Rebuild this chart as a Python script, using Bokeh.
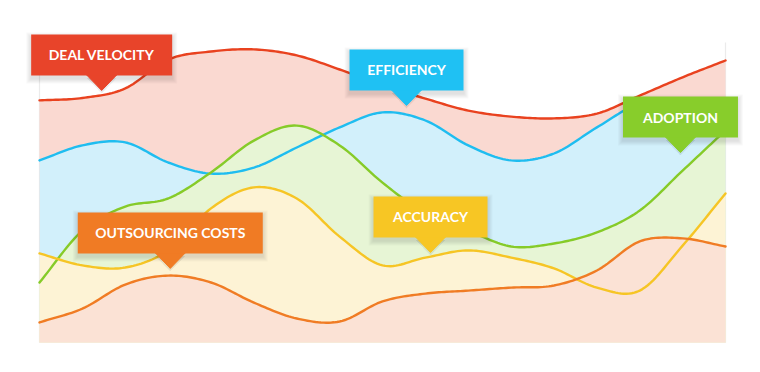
import numpy as np
from bokeh.plotting import figure
from bokeh.models import Range1d, ColumnDataSource
from bokeh.core.properties import value
from bokeh.embed import file_html
from bokeh.resources import INLINE

# ---------------- data ----------------
periods = list(range(17))
deal_velocity = [80.7, 81.5, 84.7, 94.3, 97.0, 97.7, 95.7, 91.0, 85.7, 81.3, 77.3, 75.3, 74.7, 76.3, 82.3, 88.4, 94.0]
efficiency = [60.7, 65.7, 66.7, 60.0, 56.3, 58.3, 65.0, 71.7, 76.7, 74.0, 65.7, 60.7, 63.0, 71.7, 79.7, 80.7, 80.0]
adoption = [20.0, 37.3, 45.3, 48.0, 56.7, 67.3, 72.3, 65.7, 53.3, 43.0, 37.3, 32.0, 33.0, 36.7, 44.0, 57.3, 70.7]
accuracy = [29.7, 25.7, 25.0, 30.7, 44.7, 51.7, 48.0, 35.3, 25.7, 28.3, 30.7, 28.3, 24.7, 18.3, 17.3, 32.3, 49.7]
outsourcing_costs = [6.7, 11.3, 19.3, 22.3, 20.0, 13.3, 8.0, 7.0, 13.7, 16.3, 17.3, 18.3, 19.0, 24.0, 33.7, 34.7, 32.0]

series_labels = ["DEAL VELOCITY", "EFFICIENCY", "ADOPTION", "ACCURACY", "OUTSOURCING COSTS"]

# ---------------- styles / layout ----------------
line_colors = ["#e9421f", "#1fbdf0", "#86cb29", "#f6c525", "#f07c24"]
fill_colors = ["#fad9d1", "#d2f0fb", "#e7f5d5", "#fdf3d5", "#fbe2d5"]
label_colors = ["#e8442a", "#1fc1f3", "#88cd2b", "#f7c624", "#f07b24"]
# callout tip positions (in data units) and box widths (px)
label_tip_x = [1.45, 8.56, 14.95, 9.12, 3.05]
label_tip_y = [84.0, 79.0, 63.3, 30.0, 24.7]
label_box_w = [141, 114, 115, 114, 185]

W, H = 744, 356
x_start, x_end = -0.9096, 16.4431
y_start, y_end = -4.6667, 114.0
PXX = (x_end - x_start) / W
PXY = (y_end - y_start) / H

p = figure(width=W, height=H, output_backend="svg", toolbar_location=None,
           x_range=Range1d(x_start, x_end), y_range=Range1d(y_start, y_end),
           min_border=0, outline_line_color=None, background_fill_color="white",
           border_fill_color="white")
p.axis.visible = False
p.grid.visible = False


def smooth(xs, ys, steps=16):
    """Render-time cubic (Catmull-Rom) smoothing of the read values, like a spline line type."""
    xs = np.asarray(xs, float)
    ys = np.asarray(ys, float)
    n = len(xs)
    m = np.zeros(n)
    m[1:-1] = (ys[2:] - ys[:-2]) / (xs[2:] - xs[:-2])
    m[0] = ys[1] - ys[0]
    m[-1] = ys[-1] - ys[-2]
    ox, oy = [], []
    for i in range(n - 1):
        h = xs[i + 1] - xs[i]
        t = np.linspace(0, 1, steps, endpoint=(i == n - 2))
        h00 = 2 * t**3 - 3 * t**2 + 1
        h10 = t**3 - 2 * t**2 + t
        h01 = -2 * t**3 + 3 * t**2
        h11 = t**3 - t**2
        ox.extend(xs[i] + t * h)
        oy.extend(h00 * ys[i] + h10 * h * m[i] + h01 * ys[i + 1] + h11 * h * m[i + 1])
    return np.array(ox), np.array(oy)


series = [deal_velocity, efficiency, adoption, accuracy, outsourcing_costs]

# plot-area side borders
p.segment(x0=[periods[0], periods[-1]], y0=[0, 0], x1=[periods[0], periods[-1]], y1=[100, 100],
          line_color="#ebebeb", line_width=1.2)

# fills
for vals, fc in zip(series, fill_colors):
    sx, sy = smooth(periods, vals)
    p.varea(x=sx, y1=np.zeros_like(sy), y2=sy, fill_color=fc, fill_alpha=1.0)

# lines
for vals, lc in zip(series, line_colors):
    sx, sy = smooth(periods, vals)
    p.line(sx, sy, line_color=lc, line_width=2.4, line_join="round", line_cap="round")

# callout labels
tri_h, tri_half, box_h = 15, 15, 41
lefts, rights, tops, bottoms, txs, tys, tri_xs, tri_ys = [], [], [], [], [], [], [], []
for tx, ty, bw in zip(label_tip_x, label_tip_y, label_box_w):
    bottom = ty + tri_h * PXY
    top = bottom + box_h * PXY
    lefts.append(tx - bw / 2 * PXX)
    rights.append(tx + bw / 2 * PXX)
    tops.append(top)
    bottoms.append(bottom)
    txs.append(tx)
    tys.append((top + bottom) / 2)
    tri_xs.append([tx - tri_half * PXX, tx + tri_half * PXX, tx])
    tri_ys.append([bottom + 0.5 * PXY, bottom + 0.5 * PXY, ty])

# soft shadows
for k in range(1, 6):
    p.quad(left=[l - k * PXX for l in lefts], right=[r + k * PXX for r in rights],
           top=[t - (3 - k) * PXY for t in tops], bottom=[b - (3 + k) * PXY for b in bottoms],
           fill_color="black", fill_alpha=0.022, line_color=None)
    p.patches(xs=tri_xs, ys=[[y - 3 * PXY for y in ys] for ys in tri_ys],
              fill_color="black", fill_alpha=0.015, line_color=None)

src = ColumnDataSource(dict(left=lefts, right=rights, top=tops, bottom=bottoms,
                            color=label_colors, x=txs, y=tys, text=series_labels,
                            txs=tri_xs, tys=tri_ys))
p.patches(xs="txs", ys="tys", fill_color="color", line_color="color", line_width=1, source=src)
p.quad(left="left", right="right", top="top", bottom="bottom", fill_color="color",
       line_color=None, source=src)
p.text(x="x", y="y", text="text", source=src, text_font=value("Lato"), text_font_style="bold",
       text_font_size="14px", text_color="white", text_align="center", text_baseline="middle")

open("out.html", "w").write(file_html(p, INLINE))
